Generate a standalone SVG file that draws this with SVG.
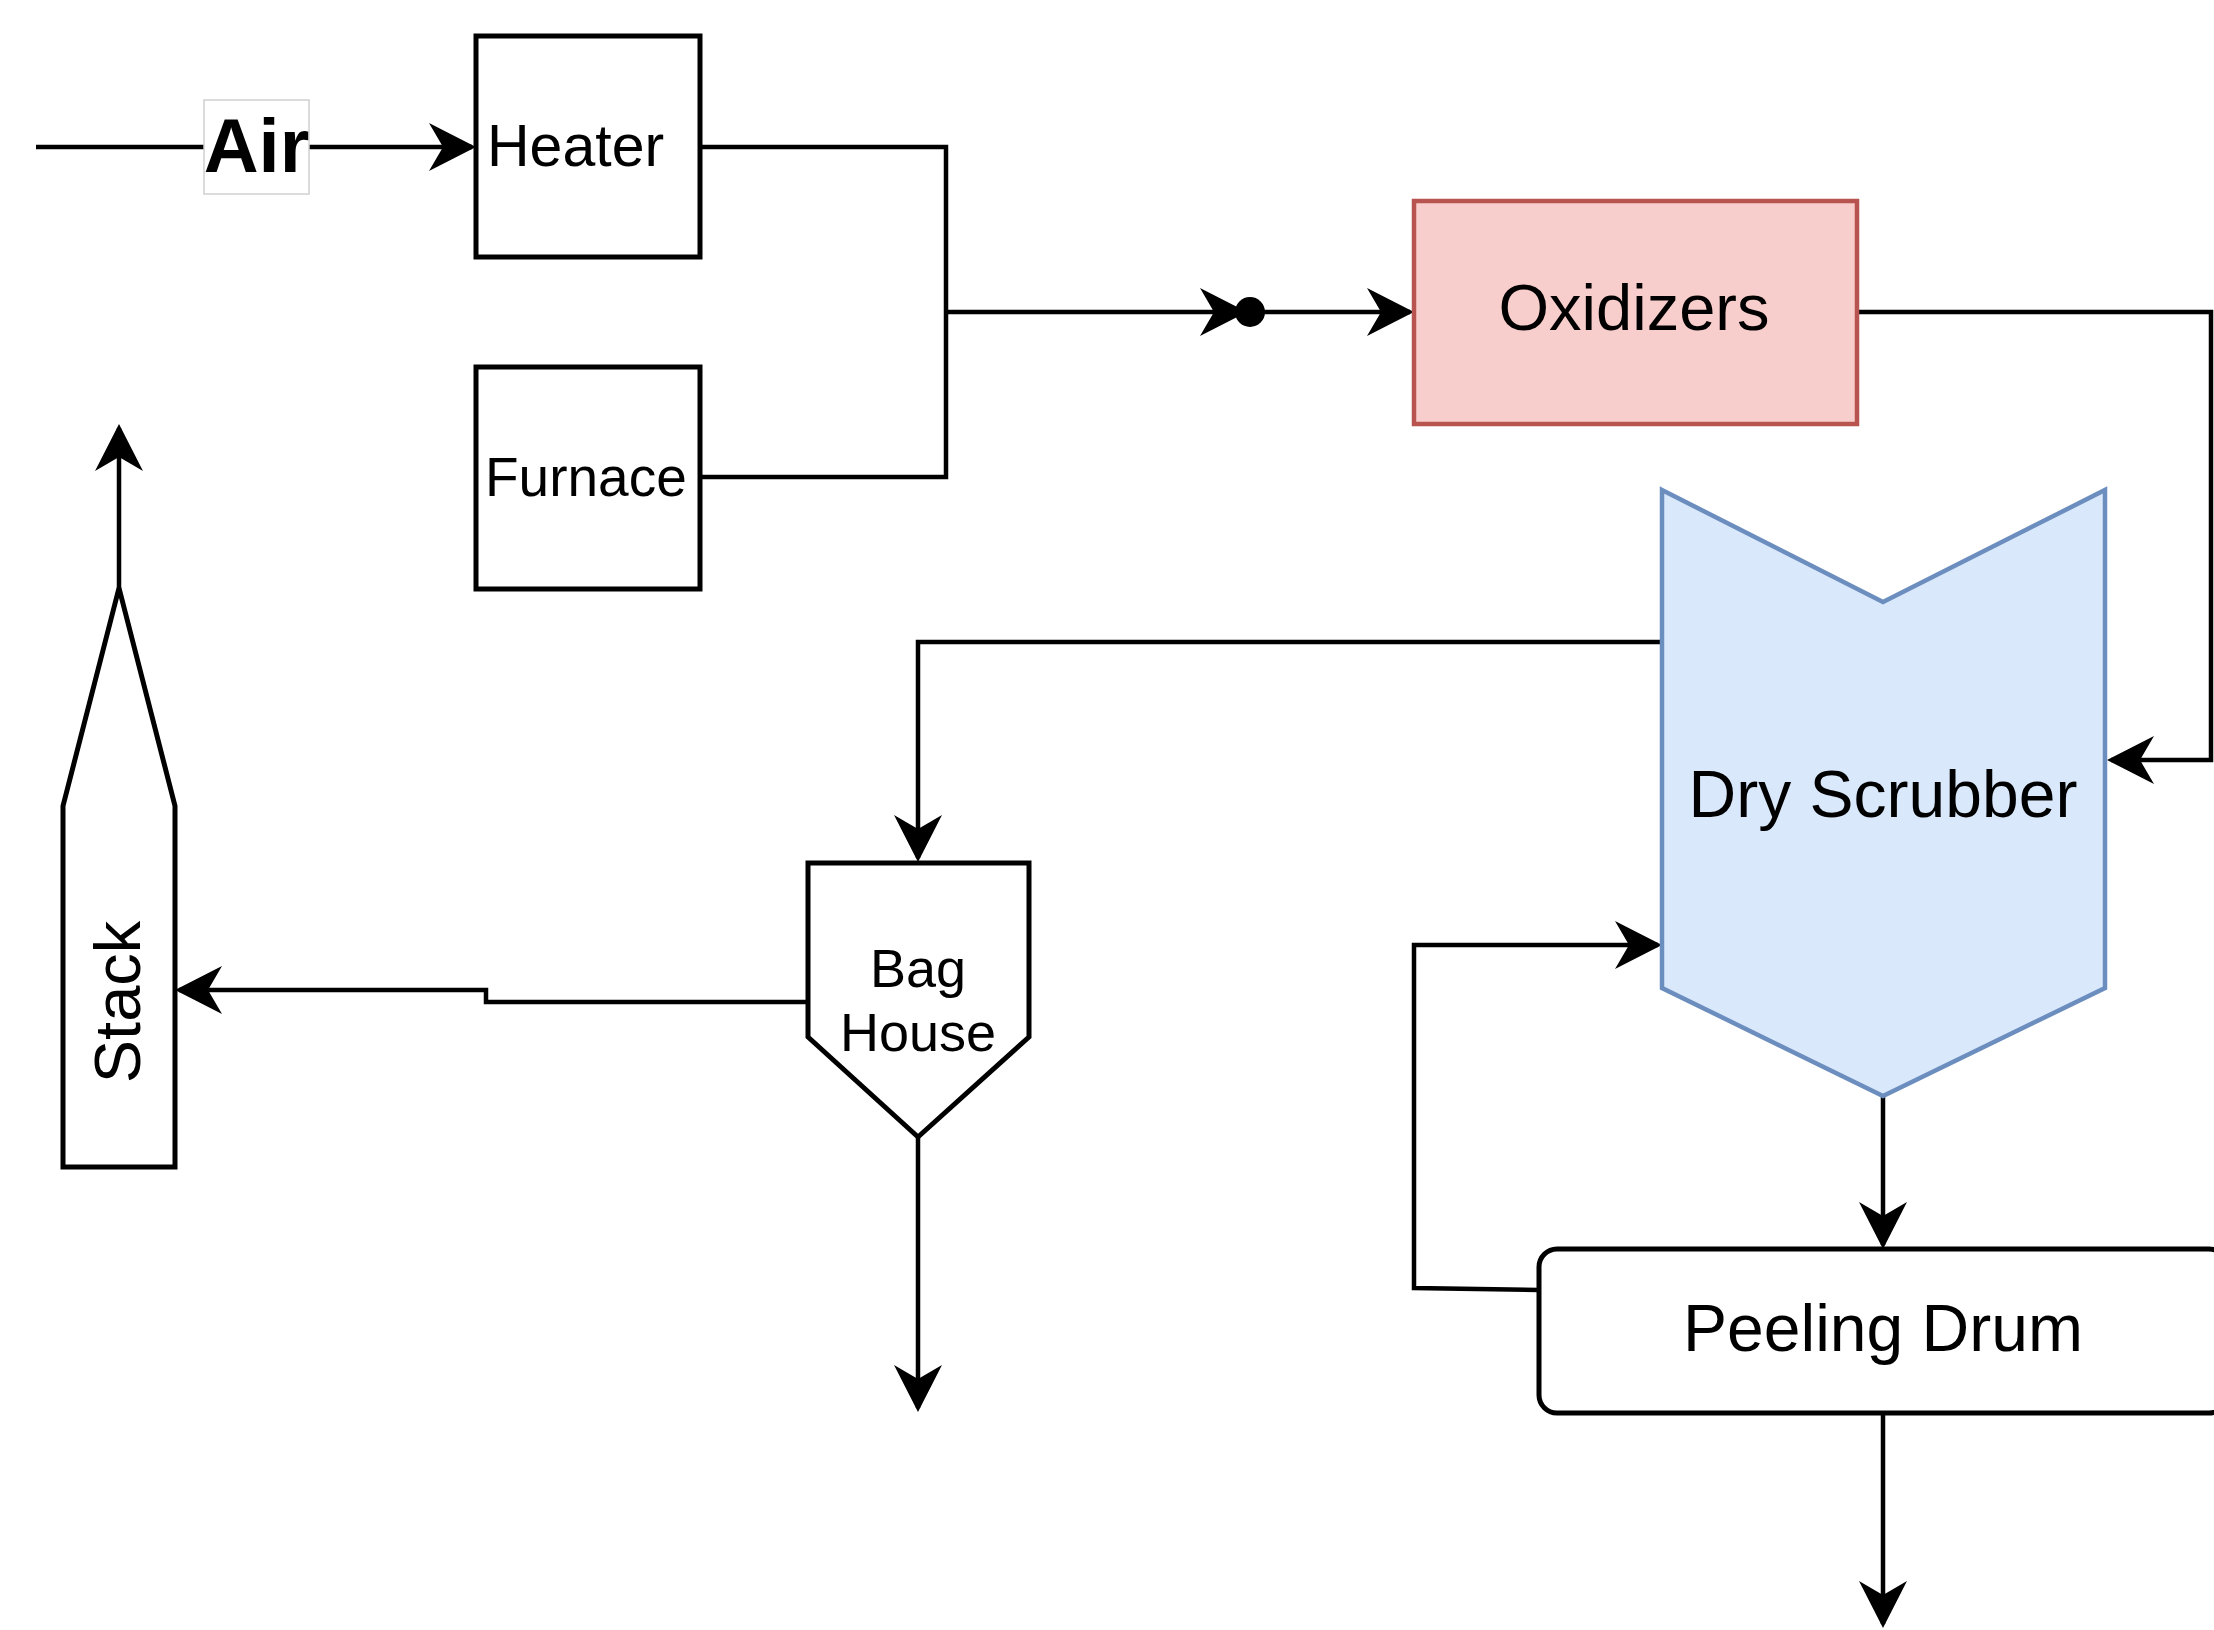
<svg xmlns="http://www.w3.org/2000/svg" width="2214" height="1630" viewBox="0 0 2214 1630">
<style>
.box{fill:#fff;stroke:#000;stroke-width:5}
.edge{fill:none;stroke:#000;stroke-width:4.5}
.t{font-family:"Liberation Sans",Arial,Helvetica,sans-serif;fill:#000}
</style>
<defs>
<marker id="arr" markerUnits="userSpaceOnUse" viewBox="-50 -30 60 60" markerWidth="60" markerHeight="60" refX="0" refY="0" orient="auto">
<path d="M4,0 L-43,-24 L-29,0 L-43,24 Z" fill="#000"/>
</marker>
<marker id="dot" markerUnits="userSpaceOnUse" viewBox="-20 -20 40 40" markerWidth="40" markerHeight="40" refX="0" refY="0" orient="auto">
<ellipse cx="0" cy="0" rx="15" ry="15" fill="#000"/>
</marker>
</defs>
<rect width="2214" height="1630" fill="#fff"/>
<g id="connectors">
<path class="edge" d="M36,147 H472" marker-end="url(#arr)"/>
<path class="edge" d="M700,147 H946 V477 H700"/>
<path class="edge" d="M946,312 H1243" marker-end="url(#arr)"/>
<path class="edge" d="M1250,312 H1410" marker-start="url(#dot)" marker-end="url(#arr)"/>
<path class="edge" d="M1857,312 H2211 V760 H2111" marker-end="url(#arr)"/>
<path class="edge" d="M1662,642 H918 V858" marker-end="url(#arr)"/>
<path class="edge" d="M808,1002 H486 V990 H179" marker-end="url(#arr)"/>
<path class="edge" d="M119,588 V428" marker-end="url(#arr)"/>
<path class="edge" d="M918,1137 V1408" marker-end="url(#arr)"/>
<path class="edge" d="M1883,1096 V1245" marker-end="url(#arr)"/>
<path class="edge" d="M1883,1413 V1624" marker-end="url(#arr)"/>
<path class="edge" d="M1539,1290 L1414,1288 V945 H1658" marker-end="url(#arr)"/>
</g>
<g id="air-label">
<rect x="204" y="100" width="105" height="94" fill="#fff" stroke="#d0d0d0" stroke-width="1.5"/>
<text class="t" x="256.5" y="172" font-size="76" font-weight="bold" text-anchor="middle">Air</text>
</g>
<g id="heater">
<rect class="box" x="476" y="36" width="224" height="221"/>
<text class="t" x="487" y="166" font-size="59">Heater</text>
</g>
<g id="furnace">
<rect class="box" x="476" y="367" width="224" height="222"/>
<text class="t" x="485" y="496" font-size="55">Furnace</text>
</g>
<g id="oxidizers">
<rect x="1414" y="201" width="443" height="223" fill="#f8cecc" stroke="#b85450" stroke-width="4.5"/>
<text class="t" x="1634" y="330" font-size="65" text-anchor="middle">Oxidizers</text>
</g>
<g id="dry-scrubber">
<polygon points="1662,490 1883,602 2105,490 2105,988 1883,1096 1662,988" fill="#dae8fc" stroke="#6c8ebf" stroke-width="4.5"/>
<text class="t" x="1883" y="817" font-size="66" text-anchor="middle">Dry Scrubber</text>
</g>
<g id="bag-house">
<polygon class="box" points="808,863 1029,863 1029,1037 918,1137 808,1037"/>
<text class="t" x="918" y="987" font-size="54" text-anchor="middle">Bag</text>
<text class="t" x="918" y="1051" font-size="54" text-anchor="middle">House</text>
</g>
<g id="stack">
<polygon class="box" points="63,1167 63,806 119,588 175,806 175,1167"/>
<text class="t" transform="translate(140,1002) rotate(-90)" font-size="65" text-anchor="middle">Stack</text>
</g>
<g id="peeling-drum">
<rect class="box" x="1539" y="1249" width="688" height="164" rx="18" ry="18"/>
<text class="t" x="1883" y="1351" font-size="66" text-anchor="middle">Peeling Drum</text>
</g>
</svg>
